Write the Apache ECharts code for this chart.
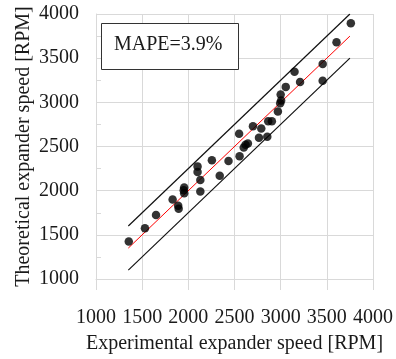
<!DOCTYPE html>
<html>
<head>
<meta charset="utf-8">
<script src="https://cdn.jsdelivr.net/npm/echarts@6/dist/echarts.min.js"></script>
<style>
  html, body { margin: 0; padding: 0; background: #ffffff; }
  #chart { width: 396px; height: 359px; }
</style>
</head>
<body>
<div id="chart"></div>
<script>
// Measured vs. predicted expander speed (RPM)
const expSpeed = [
  1355, 1530, 1650, 1830, 1890, 1895, 1955, 1950, 1955,
  2100, 2100, 2130, 2130, 2255, 2340, 2435,
  2550, 2555, 2600, 2620, 2645, 2700, 2765, 2790, 2855, 2865, 2905,
  2970, 2995, 3005, 3000, 3055, 3150, 3210, 3455, 3455, 3605, 3760
];
const theoSpeed = [
  1425, 1575, 1725, 1900, 1830, 1795, 2035, 2005, 1970,
  2275, 2210, 2120, 1990, 2345, 2170, 2335,
  2645, 2390, 2490, 2520, 2535, 2730, 2600, 2705, 2610, 2785, 2785,
  2895, 2990, 3020, 3090, 3175, 3345, 3230, 3435, 3245, 3680, 3895
];

// Parity line and the +/-250 RPM band
const parityX = [1350, 3750];
const parityY = [1350, 3750];
const upperY = [1600, 4000];
const lowerY = [1100, 3500];

const axisTicks = [1000, 1500, 2000, 2500, 3000, 3500, 4000];
const mapeText = 'MAPE=3.9%';

const serif = '"Liberation Serif", "DejaVu Serif", serif';
const textColor = '#1a1a1a';
const gridColor = '#d9d9d9';

const pairs = (xs, ys) => xs.map((x, i) => [x, ys[i]]);
const plainNumber = (v) => String(v);

const chart = echarts.init(document.getElementById('chart'), null, { renderer: 'canvas' });

chart.setOption({
  animation: false,
  backgroundColor: '#ffffff',
  grid: { left: 96, top: 14, width: 279, height: 270, containLabel: false },
  xAxis: {
    type: 'value',
    min: axisTicks[0],
    max: axisTicks[axisTicks.length - 1],
    interval: 500,
    name: 'Experimental expander speed [RPM]',
    nameLocation: 'middle',
    nameGap: 55,
    nameMoveOverlap: false,
    nameTextStyle: { fontFamily: serif, fontSize: 20, color: textColor },
    axisLine: { show: true, lineStyle: { color: gridColor, width: 1 } },
    axisTick: { show: true, length: 11, lineStyle: { color: gridColor } },
    axisLabel: {
      fontFamily: serif, fontSize: 20, color: textColor, margin: 29,
      formatter: plainNumber, showMinLabel: true, showMaxLabel: true, hideOverlap: false
    },
    splitLine: { show: true, lineStyle: { color: gridColor, width: 1 } }
  },
  yAxis: {
    type: 'value',
    min: axisTicks[0],
    max: axisTicks[axisTicks.length - 1],
    interval: 500,
    name: 'Theoretical expander speed [RPM]',
    nameLocation: 'middle',
    nameGap: 62,
    nameMoveOverlap: false,
    nameTextStyle: { fontFamily: serif, fontSize: 20, color: textColor },
    axisLine: { show: true, lineStyle: { color: gridColor, width: 1 } },
    axisTick: { show: true, inside: true, length: 5, lineStyle: { color: gridColor } },
    minorTick: { show: true, splitNumber: 2, length: 5, lineStyle: { color: gridColor } },
    axisLabel: {
      fontFamily: serif, fontSize: 20, color: textColor, margin: 17,
      formatter: plainNumber, showMinLabel: true, showMaxLabel: true, hideOverlap: false
    },
    splitLine: { show: true, lineStyle: { color: gridColor, width: 1 } }
  },
  graphic: [
    {
      type: 'rect',
      left: 101, top: 23,
      shape: { width: 137, height: 46 },
      style: { fill: '#ffffff', stroke: '#333333', lineWidth: 1 },
      z: 10
    },
    {
      type: 'text',
      left: 114, top: 35,
      style: { text: mapeText, font: '20px ' + serif, fill: textColor },
      z: 11
    }
  ],
  series: [
    {
      type: 'line',
      data: pairs(parityX, upperY),
      symbol: 'none',
      lineStyle: { color: '#111111', width: 1.2 },
      z: 2
    },
    {
      type: 'line',
      data: pairs(parityX, lowerY),
      symbol: 'none',
      lineStyle: { color: '#111111', width: 1.2 },
      z: 2
    },
    {
      type: 'line',
      data: pairs(parityX, parityY),
      symbol: 'none',
      lineStyle: { color: '#ff0000', width: 1 },
      z: 3
    },
    {
      type: 'scatter',
      data: pairs(expSpeed, theoSpeed),
      symbol: 'circle',
      symbolSize: 8.5,
      itemStyle: { color: '#000000' },
      z: 4
    }
  ]
});
</script>
</body>
</html>
